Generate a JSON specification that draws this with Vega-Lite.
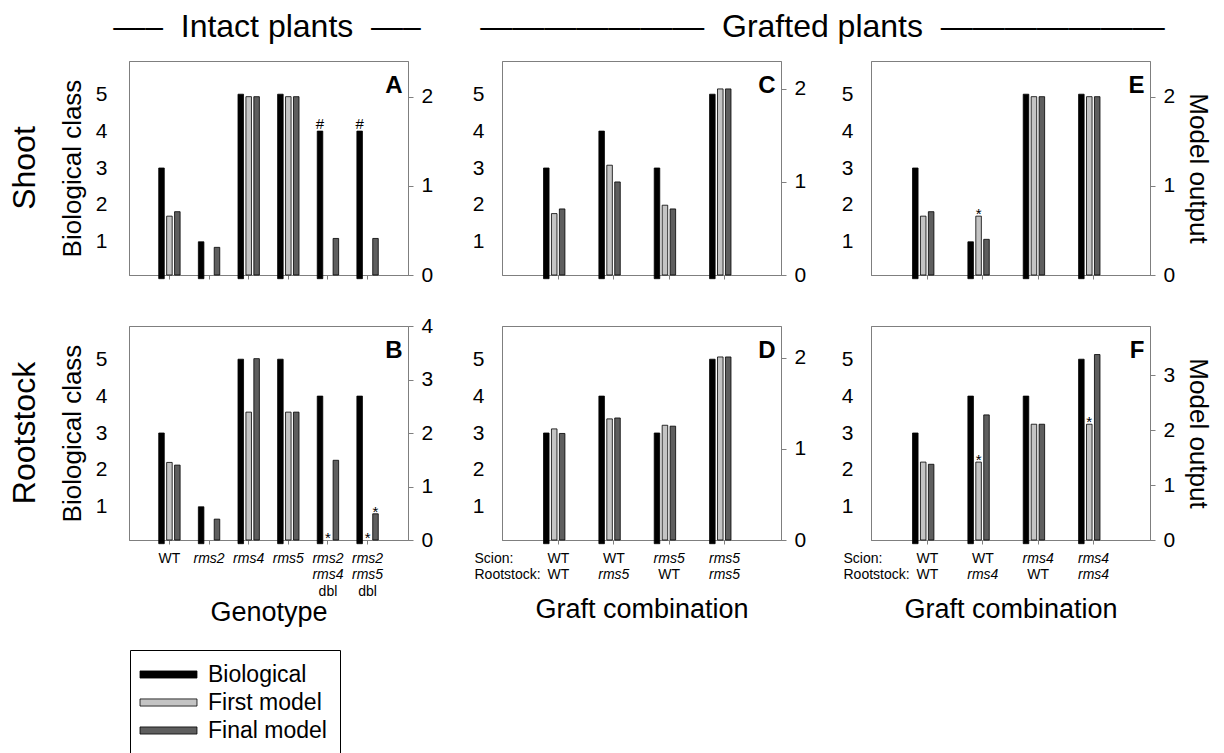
{
  "$schema": "https://vega.github.io/schema/vega-lite/v6.json",
  "autosize": {"type": "pad"},
  "padding": {"left": 8, "top": 10, "right": 0, "bottom": 0},
  "background": "white",
  "datasets": {
    "A": [
      {"cat": "WT", "series": "Biological", "value": 3},
      {"cat": "WT", "series": "First model", "value": 0.66},
      {"cat": "WT", "series": "Final model", "value": 0.71},
      {"cat": "rms2", "series": "Biological", "value": 1},
      {"cat": "rms2", "series": "First model", "value": 0},
      {"cat": "rms2", "series": "Final model", "value": 0.31},
      {"cat": "rms4", "series": "Biological", "value": 5},
      {"cat": "rms4", "series": "First model", "value": 2.0},
      {"cat": "rms4", "series": "Final model", "value": 2.0},
      {"cat": "rms5", "series": "Biological", "value": 5},
      {"cat": "rms5", "series": "First model", "value": 2.0},
      {"cat": "rms5", "series": "Final model", "value": 2.0},
      {"cat": "rms2 rms4 dbl", "series": "Biological", "value": 4, "note": "#"},
      {"cat": "rms2 rms4 dbl", "series": "First model", "value": 0},
      {"cat": "rms2 rms4 dbl", "series": "Final model", "value": 0.41},
      {"cat": "rms2 rms5 dbl", "series": "Biological", "value": 4, "note": "#"},
      {"cat": "rms2 rms5 dbl", "series": "First model", "value": 0},
      {"cat": "rms2 rms5 dbl", "series": "Final model", "value": 0.41}
    ],
    "B": [
      {"cat": "WT", "series": "Biological", "value": 3},
      {"cat": "WT", "series": "First model", "value": 1.45},
      {"cat": "WT", "series": "Final model", "value": 1.40},
      {"cat": "rms2", "series": "Biological", "value": 1},
      {"cat": "rms2", "series": "First model", "value": 0},
      {"cat": "rms2", "series": "Final model", "value": 0.39},
      {"cat": "rms4", "series": "Biological", "value": 5},
      {"cat": "rms4", "series": "First model", "value": 2.39},
      {"cat": "rms4", "series": "Final model", "value": 3.39},
      {"cat": "rms5", "series": "Biological", "value": 5},
      {"cat": "rms5", "series": "First model", "value": 2.39},
      {"cat": "rms5", "series": "Final model", "value": 2.39},
      {"cat": "rms2 rms4 dbl", "series": "Biological", "value": 4},
      {"cat": "rms2 rms4 dbl", "series": "First model", "value": 0, "note": "*"},
      {"cat": "rms2 rms4 dbl", "series": "Final model", "value": 1.49},
      {"cat": "rms2 rms5 dbl", "series": "Biological", "value": 4},
      {"cat": "rms2 rms5 dbl", "series": "First model", "value": 0, "note": "*"},
      {"cat": "rms2 rms5 dbl", "series": "Final model", "value": 0.49, "note": "*"}
    ],
    "C": [
      {"cat": "WT/WT", "series": "Biological", "value": 3},
      {"cat": "WT/WT", "series": "First model", "value": 0.66},
      {"cat": "WT/WT", "series": "Final model", "value": 0.71},
      {"cat": "WT/rms5", "series": "Biological", "value": 4},
      {"cat": "WT/rms5", "series": "First model", "value": 1.18},
      {"cat": "WT/rms5", "series": "Final model", "value": 1.0},
      {"cat": "rms5/WT", "series": "Biological", "value": 3},
      {"cat": "rms5/WT", "series": "First model", "value": 0.75},
      {"cat": "rms5/WT", "series": "Final model", "value": 0.71},
      {"cat": "rms5/rms5", "series": "Biological", "value": 5},
      {"cat": "rms5/rms5", "series": "First model", "value": 2.0},
      {"cat": "rms5/rms5", "series": "Final model", "value": 2.0}
    ],
    "D": [
      {"cat": "WT/WT", "series": "Biological", "value": 3},
      {"cat": "WT/WT", "series": "First model", "value": 1.22},
      {"cat": "WT/WT", "series": "Final model", "value": 1.17},
      {"cat": "WT/rms5", "series": "Biological", "value": 4},
      {"cat": "WT/rms5", "series": "First model", "value": 1.33},
      {"cat": "WT/rms5", "series": "Final model", "value": 1.34},
      {"cat": "rms5/WT", "series": "Biological", "value": 3},
      {"cat": "rms5/WT", "series": "First model", "value": 1.26},
      {"cat": "rms5/WT", "series": "Final model", "value": 1.25},
      {"cat": "rms5/rms5", "series": "Biological", "value": 5},
      {"cat": "rms5/rms5", "series": "First model", "value": 2.01},
      {"cat": "rms5/rms5", "series": "Final model", "value": 2.01}
    ],
    "E": [
      {"cat": "WT/WT", "series": "Biological", "value": 3},
      {"cat": "WT/WT", "series": "First model", "value": 0.66},
      {"cat": "WT/WT", "series": "Final model", "value": 0.71},
      {"cat": "WT/rms4", "series": "Biological", "value": 1},
      {"cat": "WT/rms4", "series": "First model", "value": 0.66, "note": "*"},
      {"cat": "WT/rms4", "series": "Final model", "value": 0.40},
      {"cat": "rms4/WT", "series": "Biological", "value": 5},
      {"cat": "rms4/WT", "series": "First model", "value": 2.0},
      {"cat": "rms4/WT", "series": "Final model", "value": 2.0},
      {"cat": "rms4/rms4", "series": "Biological", "value": 5},
      {"cat": "rms4/rms4", "series": "First model", "value": 2.0},
      {"cat": "rms4/rms4", "series": "Final model", "value": 2.0}
    ],
    "F": [
      {"cat": "WT/WT", "series": "Biological", "value": 3},
      {"cat": "WT/WT", "series": "First model", "value": 1.42},
      {"cat": "WT/WT", "series": "Final model", "value": 1.38},
      {"cat": "WT/rms4", "series": "Biological", "value": 4},
      {"cat": "WT/rms4", "series": "First model", "value": 1.42, "note": "*"},
      {"cat": "WT/rms4", "series": "Final model", "value": 2.28},
      {"cat": "rms4/WT", "series": "Biological", "value": 4},
      {"cat": "rms4/WT", "series": "First model", "value": 2.11},
      {"cat": "rms4/WT", "series": "Final model", "value": 2.11},
      {"cat": "rms4/rms4", "series": "Biological", "value": 5},
      {"cat": "rms4/rms4", "series": "First model", "value": 2.11, "note": "*"},
      {"cat": "rms4/rms4", "series": "Final model", "value": 3.38}
    ]
  },
  "spacing": 37,
  "hconcat": [
    {
      "spacing": 28,
      "title": {"text": "—–\u00a0\u00a0Intact plants\u00a0\u00a0—–", "anchor": "middle", "fontSize": 32, "baseline": "alphabetic", "offset": -8, "dx": 46},
      "vconcat": [
        {
          "width": 279, "height": 214,
          "data": {"name": "A"},
          "title": {"text": "Shoot", "orient": "left", "anchor": "middle", "frame": "group", "fontSize": 32, "offset": -8, "baseline": "alphabetic"},
          "layer": [
            {"layer": [
              {"transform": [{"filter": "datum.series == 'Biological'"}],
               "mark": {"type": "bar"},
               "encoding": {
                 "x": {"field": "cat", "type": "nominal", "sort": ["WT", "rms2", "rms4", "rms5", "rms2 rms4 dbl", "rms2 rms5 dbl"], "scale": {"paddingInner": 0.46, "paddingOuter": 0.75}, "axis": {"orient": "bottom", "labels": false, "title": null, "tickSize": 4}},
                 "xOffset": {"field": "series", "type": "nominal", "scale": {"domain": ["Biological", "First model", "Final model"], "paddingInner": 0.3}},
                 "y": {"field": "value", "type": "quantitative", "scale": {"domain": [0.1, 5.9], "nice": false, "zero": false}, "axis": {"orient": "left", "values": [1, 2, 3, 4, 5], "ticks": false, "labelPadding": 22, "title": "Biological class", "titlePadding": 10}},
                 "color": {"field": "series", "type": "nominal", "scale": {"domain": ["Biological", "First model", "Final model"], "range": ["#000000", "#c4c4c4", "#5e5e5e"]}, "legend": {"title": null, "orient": "none", "legendX": 1, "legendY": 589, "direction": "vertical", "symbolType": "M-4,-0.5H4V0.5H-4Z", "symbolSize": 203, "symbolStrokeColor": "#000000", "symbolStrokeWidth": 1, "symbolOpacity": 1, "symbolOffset": 14, "labelOffset": 28, "labelFontSize": 23, "labelFont": "Liberation Sans", "labelColor": "#000000", "strokeColor": "#000000", "padding": 13, "rowPadding": 4}}
               }},
              {"transform": [{"filter": "datum.note == '#'"}],
               "mark": {"type": "text", "baseline": "alphabetic", "dy": -2, "fontSize": 15},
               "encoding": {
                 "x": {"field": "cat", "type": "nominal", "sort": ["WT", "rms2", "rms4", "rms5", "rms2 rms4 dbl", "rms2 rms5 dbl"], "scale": {"paddingInner": 0.46, "paddingOuter": 0.75}, "axis": {"orient": "bottom", "labels": false, "title": null, "tickSize": 4}},
                 "xOffset": {"field": "series", "type": "nominal", "scale": {"domain": ["Biological", "First model", "Final model"], "paddingInner": 0.3}},
                 "y": {"field": "value", "type": "quantitative", "scale": {"domain": [0.1, 5.9], "nice": false, "zero": false}, "axis": {"orient": "left", "values": [1, 2, 3, 4, 5], "ticks": false, "labelPadding": 22, "title": "Biological class", "titlePadding": 10}},
                 "text": {"field": "note"}
               }}
            ]},
            {"transform": [{"filter": "datum.series != 'Biological' && datum.value > 0"}],
             "mark": {"type": "bar"},
             "encoding": {
               "x": {"field": "cat", "type": "nominal", "sort": ["WT", "rms2", "rms4", "rms5", "rms2 rms4 dbl", "rms2 rms5 dbl"], "scale": {"paddingInner": 0.46, "paddingOuter": 0.75}, "axis": {"orient": "bottom", "labels": false, "title": null, "tickSize": 4}},
               "xOffset": {"field": "series", "type": "nominal", "scale": {"domain": ["Biological", "First model", "Final model"], "paddingInner": 0.3}},
               "y": {"field": "value", "type": "quantitative", "scale": {"domain": [0, 2.4], "nice": false}, "axis": {"orient": "right", "values": [0, 1, 2], "tickSize": 5, "labelPadding": 8, "title": "A", "titleAngle": 0, "titleX": -6, "titleY": 31, "titleAlign": "right", "titleBaseline": "alphabetic", "titleFontSize": 24, "titleFontWeight": "bold"}},
               "color": {"field": "series", "type": "nominal", "scale": {"domain": ["Biological", "First model", "Final model"], "range": ["#000000", "#c4c4c4", "#5e5e5e"]}}
             }}
          ],
          "resolve": {"scale": {"y": "independent"}}
        },
        {
          "width": 279, "height": 214,
          "data": {"name": "B"},
          "title": {"text": "Rootstock", "orient": "left", "anchor": "middle", "frame": "group", "fontSize": 32, "offset": -8, "baseline": "alphabetic"},
          "layer": [
            {"transform": [{"filter": "datum.series == 'Biological'"}],
             "mark": {"type": "bar"},
             "encoding": {
               "x": {"field": "cat", "type": "nominal", "sort": ["WT", "rms2", "rms4", "rms5", "rms2 rms4 dbl", "rms2 rms5 dbl"], "scale": {"paddingInner": 0.46, "paddingOuter": 0.75}, "axis": {"orient": "bottom", "labelExpr": "slice(split(datum.value, ' '), 0, 2)", "labelFontStyle": {"condition": {"test": "datum.value != 'WT'", "value": "italic"}, "value": "normal"}, "labelFontSize": 14, "labelLineHeight": 16.5, "labelPadding": 7, "tickSize": 4, "labelAngle": 0, "title": null}},
               "xOffset": {"field": "series", "type": "nominal", "scale": {"domain": ["Biological", "First model", "Final model"], "paddingInner": 0.3}},
               "y": {"field": "value", "type": "quantitative", "scale": {"domain": [0.1, 5.9], "nice": false, "zero": false}, "axis": {"orient": "left", "values": [1, 2, 3, 4, 5], "ticks": false, "labelPadding": 22, "title": "Biological class", "titlePadding": 10}},
               "color": {"field": "series", "type": "nominal", "scale": {"domain": ["Biological", "First model", "Final model"], "range": ["#000000", "#c4c4c4", "#5e5e5e"]}}
             }},
            {"layer": [
              {"transform": [{"filter": "datum.series != 'Biological' && datum.value > 0"}],
               "mark": {"type": "bar"},
               "encoding": {
                 "x": {"field": "cat", "type": "nominal", "sort": ["WT", "rms2", "rms4", "rms5", "rms2 rms4 dbl", "rms2 rms5 dbl"], "scale": {"paddingInner": 0.46, "paddingOuter": 0.75}, "axis": {"orient": "bottom", "labelExpr": "indexof(datum.value, 'dbl') >= 0 ? 'dbl' : ''", "labelFontSize": 14, "labelPadding": 44, "ticks": false, "domain": false, "labelAngle": 0, "title": "Genotype", "titleFontSize": 27, "titleY": 72, "titleBaseline": "middle"}},
                 "xOffset": {"field": "series", "type": "nominal", "scale": {"domain": ["Biological", "First model", "Final model"], "paddingInner": 0.3}},
                 "y": {"field": "value", "type": "quantitative", "scale": {"domain": [0, 4], "nice": false}, "axis": {"orient": "right", "values": [0, 1, 2, 3, 4], "tickSize": 5, "labelPadding": 8, "title": "B", "titleAngle": 0, "titleX": -6, "titleY": 31, "titleAlign": "right", "titleBaseline": "alphabetic", "titleFontSize": 24, "titleFontWeight": "bold"}},
                 "color": {"field": "series", "type": "nominal", "scale": {"domain": ["Biological", "First model", "Final model"], "range": ["#000000", "#c4c4c4", "#5e5e5e"]}}
               }},
              {"transform": [{"filter": "datum.note == '*'"}],
               "mark": {"type": "text", "baseline": "alphabetic", "dy": 3, "fontSize": 15},
               "encoding": {
                 "x": {"field": "cat", "type": "nominal", "sort": ["WT", "rms2", "rms4", "rms5", "rms2 rms4 dbl", "rms2 rms5 dbl"], "scale": {"paddingInner": 0.46, "paddingOuter": 0.75}, "axis": {"orient": "bottom", "labelExpr": "indexof(datum.value, 'dbl') >= 0 ? 'dbl' : ''", "labelFontSize": 14, "labelPadding": 44, "ticks": false, "domain": false, "labelAngle": 0, "title": "Genotype", "titleFontSize": 27, "titleY": 72, "titleBaseline": "middle"}},
                 "xOffset": {"field": "series", "type": "nominal", "scale": {"domain": ["Biological", "First model", "Final model"], "paddingInner": 0.3}},
                 "y": {"field": "value", "type": "quantitative", "scale": {"domain": [0, 4], "nice": false}, "axis": {"orient": "right", "values": [0, 1, 2, 3, 4], "tickSize": 5, "labelPadding": 8, "title": "B", "titleAngle": 0, "titleX": -6, "titleY": 31, "titleAlign": "right", "titleBaseline": "alphabetic", "titleFontSize": 24, "titleFontWeight": "bold"}},
                 "text": {"field": "note"}
               }}
            ]}
          ],
          "resolve": {"scale": {"y": "independent"}, "axis": {"x": "independent"}}
        }
      ]
    },
    {
      "spacing": 33,
      "title": {"text": "———————\u00a0\u00a0Grafted plants\u00a0\u00a0———————", "anchor": "middle", "fontSize": 32, "baseline": "alphabetic", "offset": -8, "dx": -19},
      "hconcat": [
        {
          "spacing": 39,
          "vconcat": [
            {
              "width": 279, "height": 214,
              "data": {"name": "C"},
              "layer": [
                {"transform": [{"filter": "datum.series == 'Biological'"}],
                 "mark": {"type": "bar"},
                 "encoding": {
                   "x": {"field": "cat", "type": "nominal", "sort": ["WT/WT", "WT/rms5", "rms5/WT", "rms5/rms5"], "scale": {"paddingInner": 0.46, "paddingOuter": 0.75}, "axis": {"orient": "bottom", "labels": false, "title": null, "tickSize": 4}},
                   "xOffset": {"field": "series", "type": "nominal", "scale": {"domain": ["Biological", "First model", "Final model"], "paddingInner": 0.3}},
                   "y": {"field": "value", "type": "quantitative", "scale": {"domain": [0.1, 5.9], "nice": false, "zero": false}, "axis": {"orient": "left", "values": [1, 2, 3, 4, 5], "ticks": false, "labelPadding": 18, "title": null}},
                   "color": {"field": "series", "type": "nominal", "scale": {"domain": ["Biological", "First model", "Final model"], "range": ["#000000", "#c4c4c4", "#5e5e5e"]}}
                 }},
                {"transform": [{"filter": "datum.series != 'Biological' && datum.value > 0"}],
                 "mark": {"type": "bar"},
                 "encoding": {
                   "x": {"field": "cat", "type": "nominal", "sort": ["WT/WT", "WT/rms5", "rms5/WT", "rms5/rms5"], "scale": {"paddingInner": 0.46, "paddingOuter": 0.75}, "axis": {"orient": "bottom", "labels": false, "title": null, "tickSize": 4}},
                   "xOffset": {"field": "series", "type": "nominal", "scale": {"domain": ["Biological", "First model", "Final model"], "paddingInner": 0.3}},
                   "y": {"field": "value", "type": "quantitative", "scale": {"domain": [0, 2.3], "nice": false}, "axis": {"orient": "right", "values": [0, 1, 2], "tickSize": 5, "labelPadding": 8, "title": "C", "titleAngle": 0, "titleX": -6, "titleY": 31, "titleAlign": "right", "titleBaseline": "alphabetic", "titleFontSize": 24, "titleFontWeight": "bold"}},
                   "color": {"field": "series", "type": "nominal", "scale": {"domain": ["Biological", "First model", "Final model"], "range": ["#000000", "#c4c4c4", "#5e5e5e"]}}
                 }}
              ],
              "resolve": {"scale": {"y": "independent"}}
            },
            {
              "width": 279, "height": 214,
              "data": {"name": "D"},
              "layer": [
                {"transform": [{"filter": "datum.series == 'Biological'"}],
                 "mark": {"type": "bar"},
                 "encoding": {
                   "x": {"field": "cat", "type": "nominal", "sort": ["WT/WT", "WT/rms5", "rms5/WT", "rms5/rms5"], "scale": {"paddingInner": 0.46, "paddingOuter": 0.75}, "axis": {"orient": "bottom", "labelExpr": "split(datum.value, '/')[0]", "labelFontStyle": {"condition": {"test": "split(datum.value, '/')[0] != 'WT'", "value": "italic"}, "value": "normal"}, "labelFontSize": 14, "labelPadding": 7, "tickSize": 4, "labelAngle": 0, "title": ["Scion:", "Rootstock:"], "titleX": -28, "titleY": 11, "titleAlign": "left", "titleBaseline": "top", "titleFontSize": 14, "titleLineHeight": 16.5}},
                   "xOffset": {"field": "series", "type": "nominal", "scale": {"domain": ["Biological", "First model", "Final model"], "paddingInner": 0.3}},
                   "y": {"field": "value", "type": "quantitative", "scale": {"domain": [0.1, 5.9], "nice": false, "zero": false}, "axis": {"orient": "left", "values": [1, 2, 3, 4, 5], "ticks": false, "labelPadding": 18, "title": null}},
                   "color": {"field": "series", "type": "nominal", "scale": {"domain": ["Biological", "First model", "Final model"], "range": ["#000000", "#c4c4c4", "#5e5e5e"]}}
                 }},
                {"transform": [{"filter": "datum.series != 'Biological' && datum.value > 0"}],
                 "mark": {"type": "bar"},
                 "encoding": {
                   "x": {"field": "cat", "type": "nominal", "sort": ["WT/WT", "WT/rms5", "rms5/WT", "rms5/rms5"], "scale": {"paddingInner": 0.46, "paddingOuter": 0.75}, "axis": {"orient": "bottom", "labelExpr": "split(datum.value, '/')[1]", "labelFontStyle": {"condition": {"test": "split(datum.value, '/')[1] != 'WT'", "value": "italic"}, "value": "normal"}, "labelFontSize": 14, "labelPadding": 27, "ticks": false, "domain": false, "labelAngle": 0, "title": "Graft combination", "titleFontSize": 27, "titlePadding": 15}},
                   "xOffset": {"field": "series", "type": "nominal", "scale": {"domain": ["Biological", "First model", "Final model"], "paddingInner": 0.3}},
                   "y": {"field": "value", "type": "quantitative", "scale": {"domain": [0, 2.35], "nice": false}, "axis": {"orient": "right", "values": [0, 1, 2], "tickSize": 5, "labelPadding": 8, "title": "D", "titleAngle": 0, "titleX": -6, "titleY": 31, "titleAlign": "right", "titleBaseline": "alphabetic", "titleFontSize": 24, "titleFontWeight": "bold"}},
                   "color": {"field": "series", "type": "nominal", "scale": {"domain": ["Biological", "First model", "Final model"], "range": ["#000000", "#c4c4c4", "#5e5e5e"]}}
                 }}
              ],
              "resolve": {"scale": {"y": "independent"}, "axis": {"x": "independent"}}
            }
          ]
        },
        {
          "spacing": 39,
          "vconcat": [
            {
              "width": 279, "height": 214,
              "data": {"name": "E"},
              "layer": [
                {"transform": [{"filter": "datum.series == 'Biological'"}],
                 "mark": {"type": "bar"},
                 "encoding": {
                   "x": {"field": "cat", "type": "nominal", "sort": ["WT/WT", "WT/rms4", "rms4/WT", "rms4/rms4"], "scale": {"paddingInner": 0.46, "paddingOuter": 0.75}, "axis": {"orient": "bottom", "labels": false, "title": null, "tickSize": 4}},
                   "xOffset": {"field": "series", "type": "nominal", "scale": {"domain": ["Biological", "First model", "Final model"], "paddingInner": 0.3}},
                   "y": {"field": "value", "type": "quantitative", "scale": {"domain": [0.1, 5.9], "nice": false, "zero": false}, "axis": {"orient": "left", "values": [1, 2, 3, 4, 5], "ticks": false, "labelPadding": 18, "title": "E", "titleAngle": 0, "titleX": 273, "titleY": 31, "titleAlign": "right", "titleBaseline": "alphabetic", "titleFontSize": 24, "titleFontWeight": "bold"}},
                   "color": {"field": "series", "type": "nominal", "scale": {"domain": ["Biological", "First model", "Final model"], "range": ["#000000", "#c4c4c4", "#5e5e5e"]}}
                 }},
                {"layer": [
                  {"transform": [{"filter": "datum.series != 'Biological' && datum.value > 0"}],
                   "mark": {"type": "bar"},
                   "encoding": {
                     "x": {"field": "cat", "type": "nominal", "sort": ["WT/WT", "WT/rms4", "rms4/WT", "rms4/rms4"], "scale": {"paddingInner": 0.46, "paddingOuter": 0.75}, "axis": {"orient": "bottom", "labels": false, "title": null, "tickSize": 4}},
                     "xOffset": {"field": "series", "type": "nominal", "scale": {"domain": ["Biological", "First model", "Final model"], "paddingInner": 0.3}},
                     "y": {"field": "value", "type": "quantitative", "scale": {"domain": [0, 2.4], "nice": false}, "axis": {"orient": "right", "values": [0, 1, 2], "tickSize": 5, "labelPadding": 8, "title": "Model output", "titlePadding": 10}},
                     "color": {"field": "series", "type": "nominal", "scale": {"domain": ["Biological", "First model", "Final model"], "range": ["#000000", "#c4c4c4", "#5e5e5e"]}}
                   }},
                  {"transform": [{"filter": "datum.note == '*'"}],
                   "mark": {"type": "text", "baseline": "alphabetic", "dy": 3, "fontSize": 15},
                   "encoding": {
                     "x": {"field": "cat", "type": "nominal", "sort": ["WT/WT", "WT/rms4", "rms4/WT", "rms4/rms4"], "scale": {"paddingInner": 0.46, "paddingOuter": 0.75}, "axis": {"orient": "bottom", "labels": false, "title": null, "tickSize": 4}},
                     "xOffset": {"field": "series", "type": "nominal", "scale": {"domain": ["Biological", "First model", "Final model"], "paddingInner": 0.3}},
                     "y": {"field": "value", "type": "quantitative", "scale": {"domain": [0, 2.4], "nice": false}, "axis": {"orient": "right", "values": [0, 1, 2], "tickSize": 5, "labelPadding": 8, "title": "Model output", "titlePadding": 10}},
                     "text": {"field": "note"}
                   }}
                ]}
              ],
              "resolve": {"scale": {"y": "independent"}}
            },
            {
              "width": 279, "height": 214,
              "data": {"name": "F"},
              "layer": [
                {"transform": [{"filter": "datum.series == 'Biological'"}],
                 "mark": {"type": "bar"},
                 "encoding": {
                   "x": {"field": "cat", "type": "nominal", "sort": ["WT/WT", "WT/rms4", "rms4/WT", "rms4/rms4"], "scale": {"paddingInner": 0.46, "paddingOuter": 0.75}, "axis": {"orient": "bottom", "labelExpr": "split(datum.value, '/')[0]", "labelFontStyle": {"condition": {"test": "split(datum.value, '/')[0] != 'WT'", "value": "italic"}, "value": "normal"}, "labelFontSize": 14, "labelPadding": 7, "tickSize": 4, "labelAngle": 0, "title": ["Scion:", "Rootstock:"], "titleX": -28, "titleY": 11, "titleAlign": "left", "titleBaseline": "top", "titleFontSize": 14, "titleLineHeight": 16.5}},
                   "xOffset": {"field": "series", "type": "nominal", "scale": {"domain": ["Biological", "First model", "Final model"], "paddingInner": 0.3}},
                   "y": {"field": "value", "type": "quantitative", "scale": {"domain": [0.1, 5.9], "nice": false, "zero": false}, "axis": {"orient": "left", "values": [1, 2, 3, 4, 5], "ticks": false, "labelPadding": 18, "title": "F", "titleAngle": 0, "titleX": 273, "titleY": 31, "titleAlign": "right", "titleBaseline": "alphabetic", "titleFontSize": 24, "titleFontWeight": "bold"}},
                   "color": {"field": "series", "type": "nominal", "scale": {"domain": ["Biological", "First model", "Final model"], "range": ["#000000", "#c4c4c4", "#5e5e5e"]}}
                 }},
                {"layer": [
                  {"transform": [{"filter": "datum.series != 'Biological' && datum.value > 0"}],
                   "mark": {"type": "bar"},
                   "encoding": {
                     "x": {"field": "cat", "type": "nominal", "sort": ["WT/WT", "WT/rms4", "rms4/WT", "rms4/rms4"], "scale": {"paddingInner": 0.46, "paddingOuter": 0.75}, "axis": {"orient": "bottom", "labelExpr": "split(datum.value, '/')[1]", "labelFontStyle": {"condition": {"test": "split(datum.value, '/')[1] != 'WT'", "value": "italic"}, "value": "normal"}, "labelFontSize": 14, "labelPadding": 27, "ticks": false, "domain": false, "labelAngle": 0, "title": "Graft combination", "titleFontSize": 27, "titlePadding": 15}},
                     "xOffset": {"field": "series", "type": "nominal", "scale": {"domain": ["Biological", "First model", "Final model"], "paddingInner": 0.3}},
                     "y": {"field": "value", "type": "quantitative", "scale": {"domain": [0, 3.9], "nice": false}, "axis": {"orient": "right", "values": [0, 1, 2, 3], "tickSize": 5, "labelPadding": 8, "title": "Model output", "titlePadding": 10}},
                     "color": {"field": "series", "type": "nominal", "scale": {"domain": ["Biological", "First model", "Final model"], "range": ["#000000", "#c4c4c4", "#5e5e5e"]}}
                   }},
                  {"transform": [{"filter": "datum.note == '*'"}],
                   "mark": {"type": "text", "baseline": "alphabetic", "dy": 3, "fontSize": 15},
                   "encoding": {
                     "x": {"field": "cat", "type": "nominal", "sort": ["WT/WT", "WT/rms4", "rms4/WT", "rms4/rms4"], "scale": {"paddingInner": 0.46, "paddingOuter": 0.75}, "axis": {"orient": "bottom", "labelExpr": "split(datum.value, '/')[1]", "labelFontStyle": {"condition": {"test": "split(datum.value, '/')[1] != 'WT'", "value": "italic"}, "value": "normal"}, "labelFontSize": 14, "labelPadding": 27, "ticks": false, "domain": false, "labelAngle": 0, "title": "Graft combination", "titleFontSize": 27, "titlePadding": 15}},
                     "xOffset": {"field": "series", "type": "nominal", "scale": {"domain": ["Biological", "First model", "Final model"], "paddingInner": 0.3}},
                     "y": {"field": "value", "type": "quantitative", "scale": {"domain": [0, 3.9], "nice": false}, "axis": {"orient": "right", "values": [0, 1, 2, 3], "tickSize": 5, "labelPadding": 8, "title": "Model output", "titlePadding": 10}},
                     "text": {"field": "note"}
                   }}
                ]}
              ],
              "resolve": {"scale": {"y": "independent"}, "axis": {"x": "independent"}}
            }
          ]
        }
      ]
    }
  ],
  "config": {
    "font": "Liberation Sans",
    "view": {"stroke": "#7f7f7f", "strokeWidth": 1},
    "axis": {"domainColor": "#7f7f7f", "tickColor": "#7f7f7f", "domainWidth": 1, "tickWidth": 1, "labelColor": "#000000", "titleColor": "#000000", "labelFont": "Liberation Sans", "titleFont": "Liberation Sans", "labelFontSize": 21, "titleFontSize": 26, "titleFontWeight": "normal", "grid": false},
    "title": {"font": "Liberation Sans", "fontSize": 32, "fontWeight": "normal", "color": "#000000"},
    "bar": {"stroke": "#000000", "strokeWidth": 0.8},
    "text": {"font": "Liberation Sans", "color": "#000000"}
  }
}
